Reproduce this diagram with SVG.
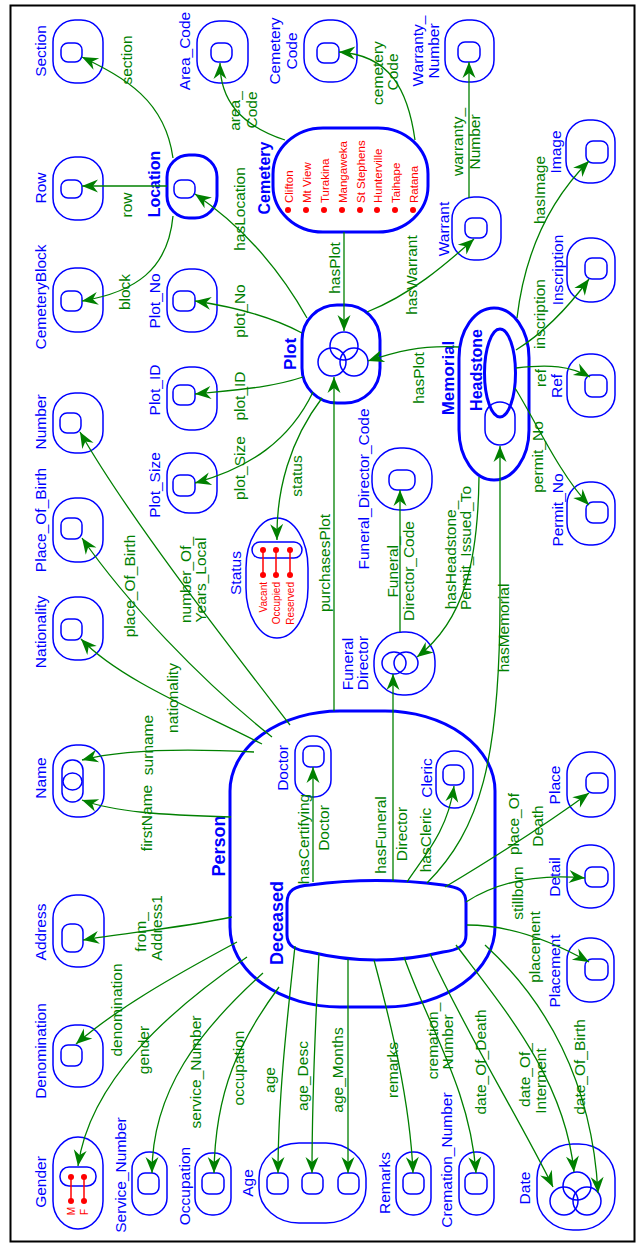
<svg xmlns="http://www.w3.org/2000/svg" width="637" height="1247" viewBox="0 0 637 1247">
<defs>
<style>
.o{fill:none;stroke:#0000ff;stroke-width:1.5}
.k{fill:none;stroke:#0000ff;stroke-width:3}
.e{fill:none;stroke:#008000;stroke-width:1.3;marker-end:url(#ah)}
text{font-family:"Liberation Sans",Arial,sans-serif;text-anchor:middle}
.b{fill:#0000ff;font-size:15.5px}
.bb{fill:#0000ff;font-size:16px;font-weight:bold}
.g{fill:#008000;font-size:15.5px}
.r{fill:#ff0000;font-size:11.5px;text-anchor:start}
.rs{fill:#ff0000;font-size:10px;text-anchor:end}
.dot{fill:#ff0000}
.rl{stroke:#ff0000;stroke-width:1.5}
</style>
<marker id="ah" markerUnits="userSpaceOnUse" viewBox="-17 -7 18 14" refX="0" refY="0" markerWidth="18" markerHeight="14" orient="auto"><path d="M0,0 L-16,-6.5 L-11,0 L-16,6.5 Z" fill="#008000"/></marker>
</defs>
<rect x="0" y="0" width="637" height="1247" fill="#ffffff"/>
<rect x="10.5" y="5.5" width="624" height="1236" fill="none" stroke="#000" stroke-width="2"/>

<g id="nodes">
<g id="section"><rect class="o" x="53" y="20" width="50" height="63" rx="22"/><rect class="o" x="61" y="43" width="21" height="19" rx="7"/><text class="b" transform="translate(46,51) rotate(-90)">Section</text></g>
<g id="row"><rect class="o" x="53" y="157" width="50" height="63" rx="22"/><rect class="o" x="61" y="180" width="21" height="18" rx="7"/><text class="b" transform="translate(46,188) rotate(-90)">Row</text></g>
<g id="cemeteryblock"><rect class="o" x="53" y="268" width="50" height="64" rx="22"/><rect class="o" x="61" y="291" width="21" height="20" rx="7"/><text class="b" transform="translate(46,297) rotate(-90)">CemeteryBlock</text></g>
<g id="number"><rect class="o" x="53" y="393" width="50" height="60" rx="22"/><rect class="o" x="60" y="413" width="21" height="20" rx="7"/><text class="b" transform="translate(46,422) rotate(-90)">Number</text></g>
<g id="placeofbirth"><rect class="o" x="53" y="498" width="50" height="64" rx="22"/><rect class="o" x="61" y="518" width="21" height="21" rx="7"/><text class="b" transform="translate(46,520) rotate(-90)">Place_Of_Birth</text></g>
<g id="nationality"><rect class="o" x="53" y="597" width="50" height="63" rx="22"/><rect class="o" x="61" y="619" width="21" height="21" rx="7"/><text class="b" transform="translate(46,632) rotate(-90)">Nationality</text></g>
<g id="name"><rect class="o" x="53" y="745" width="51" height="72" rx="23"/><rect class="o" x="62" y="760" width="21" height="42" rx="10"/><ellipse class="o" cx="72.5" cy="781.5" rx="9.5" ry="8.5"/><text class="b" transform="translate(46,778) rotate(-90)">Name</text></g>
<g id="address"><rect class="o" x="53" y="895" width="51" height="72" rx="23"/><rect class="o" x="62" y="924" width="21" height="28" rx="8"/><text class="b" transform="translate(46,932) rotate(-90)">Address</text></g>
<g id="denomination"><rect class="o" x="53" y="1025" width="50" height="62" rx="22"/><rect class="o" x="61" y="1045" width="21" height="21" rx="7"/><text class="b" transform="translate(46,1051) rotate(-90)">Denomination</text></g>
<g id="gender"><rect class="o" x="53" y="1137" width="50" height="92" rx="25" ry="28"/><rect class="o" x="60" y="1167" width="36" height="19" rx="9"/>
<line class="rl" x1="71" y1="1177" x2="71" y2="1201"/><line class="rl" x1="84" y1="1177" x2="84" y2="1201"/>
<circle class="dot" cx="71" cy="1177" r="3"/><circle class="dot" cx="84" cy="1177" r="3"/><circle class="dot" cx="71" cy="1201" r="3"/><circle class="dot" cx="84" cy="1201" r="3"/>
<text class="rs" transform="translate(75,1207) rotate(-90)">M</text><text class="rs" transform="translate(88,1209) rotate(-90)">F</text>
<text class="b" transform="translate(46,1182) rotate(-90)">Gender</text></g>
<g id="servicenumber"><rect class="o" x="132" y="1152" width="35" height="63" rx="17"/><rect class="o" x="138" y="1173" width="21" height="21" rx="7"/><text class="b" transform="translate(126,1175) rotate(-90)">Service_Number</text></g>
<g id="occupation"><rect class="o" x="195" y="1153" width="36" height="62" rx="17"/><rect class="o" x="202" y="1173" width="22" height="21" rx="7"/><text class="b" transform="translate(190,1186) rotate(-90)">Occupation</text></g>
<g id="age"><rect class="o" x="259" y="1143" width="107" height="80" rx="40" ry="35"/><rect class="o" x="267" y="1173" width="21" height="21" rx="7"/><rect class="o" x="302" y="1173" width="21" height="21" rx="7"/><rect class="o" x="338" y="1173" width="21" height="21" rx="7"/><text class="b" transform="translate(253,1183) rotate(-90)">Age</text></g>
<g id="remarks"><rect class="o" x="396" y="1152" width="35" height="63" rx="17"/><rect class="o" x="403" y="1173" width="21" height="21" rx="7"/><text class="b" transform="translate(390,1183) rotate(-90)">Remarks</text></g>
<g id="cremationnumber"><rect class="o" x="459" y="1152" width="35" height="63" rx="17"/><rect class="o" x="465" y="1173" width="22" height="21" rx="7"/><text class="b" transform="translate(452,1160) rotate(-90)">Cremation_Number</text></g>
<g id="date"><rect class="o" x="537" y="1144" width="78" height="86" rx="36" ry="34"/><circle class="o" cx="577" cy="1186" r="14"/><circle class="o" cx="564" cy="1201" r="14"/><circle class="o" cx="587" cy="1201" r="14"/><text class="b" transform="translate(530,1188) rotate(-90)">Date</text></g>
<g id="areacode"><rect class="o" x="197" y="21" width="51" height="62" rx="22"/><rect class="o" x="211" y="43" width="21" height="19" rx="7"/><text class="b" transform="translate(190,51) rotate(-90)">Area_Code</text></g>
<g id="cemeterycode"><rect class="o" x="304" y="20" width="53" height="62" rx="24"/><rect class="o" x="317" y="43" width="22" height="20" rx="7"/><text class="b" transform="translate(280,51) rotate(-90)">Cemetery</text><text class="b" transform="translate(297,51) rotate(-90)">Code</text></g>
<g id="warrantynumber"><rect class="o" x="445" y="20" width="49" height="62" rx="22"/><rect class="o" x="458" y="42" width="22" height="20" rx="7"/><text class="b" transform="translate(423,51) rotate(-90)">Warranty_</text><text class="b" transform="translate(439,51) rotate(-90)">Number</text></g>
<g id="location"><rect class="k" x="167" y="155" width="50" height="63" rx="22"/><rect class="o" x="174" y="180" width="21" height="18" rx="7"/><text class="bb" transform="translate(160,184) rotate(-90)">Location</text></g>
<g id="plotno"><rect class="o" x="167" y="269" width="50" height="63" rx="22"/><rect class="o" x="173" y="291" width="22" height="20" rx="7"/><text class="b" transform="translate(160,301) rotate(-90)">Plot_No</text></g>
<g id="plotid"><rect class="o" x="167" y="367" width="50" height="63" rx="22"/><rect class="o" x="173" y="385" width="22" height="20" rx="7"/><text class="b" transform="translate(160,390) rotate(-90)">Plot_ID</text></g>
<g id="plotsize"><rect class="o" x="167" y="453" width="50" height="60" rx="22"/><rect class="o" x="173" y="475" width="22" height="21" rx="7"/><text class="b" transform="translate(160,485) rotate(-90)">Plot_Size</text></g>
<g id="status"><rect class="o" x="246" y="518" width="62" height="120" rx="31" ry="50"/><rect class="o" x="252" y="542" width="50" height="16" rx="8"/>
<line class="rl" x1="263" y1="550" x2="263" y2="575"/><line class="rl" x1="276" y1="550" x2="276" y2="575"/><line class="rl" x1="290" y1="550" x2="290" y2="575"/>
<circle class="dot" cx="263" cy="550" r="3"/><circle class="dot" cx="276" cy="550" r="3"/><circle class="dot" cx="290" cy="550" r="3"/><circle class="dot" cx="263" cy="575" r="3"/><circle class="dot" cx="276" cy="575" r="3"/><circle class="dot" cx="290" cy="575" r="3"/>
<text class="rs" transform="translate(267,582) rotate(-90)">Vacant</text><text class="rs" transform="translate(280,582) rotate(-90)">Occupied</text><text class="rs" transform="translate(294,582) rotate(-90)">Reserved</text>
<text class="b" transform="translate(241,573) rotate(-90)">Status</text></g>
<g id="cemetery"><rect class="k" x="273" y="128" width="155" height="104" rx="50" ry="46"/>
<circle class="dot" cx="288" cy="210" r="3"/><circle class="dot" cx="306" cy="210" r="3"/><circle class="dot" cx="324" cy="210" r="3"/><circle class="dot" cx="342" cy="210" r="3"/><circle class="dot" cx="360" cy="210" r="3"/><circle class="dot" cx="377" cy="210" r="3"/><circle class="dot" cx="395" cy="210" r="3"/><circle class="dot" cx="413" cy="210" r="3"/>
<text class="r" transform="translate(293,203) rotate(-90)">Clifton</text><text class="r" transform="translate(311,203) rotate(-90)">Mt View</text><text class="r" transform="translate(329,203) rotate(-90)">Turakina</text><text class="r" transform="translate(347,203) rotate(-90)">Mangaweka</text><text class="r" transform="translate(365,203) rotate(-90)">St Stephens</text><text class="r" transform="translate(382,203) rotate(-90)">Hunterville</text><text class="r" transform="translate(400,203) rotate(-90)">Taihape</text><text class="r" transform="translate(418,203) rotate(-90)">Ratana</text>
<text class="bb" transform="translate(270,178) rotate(-90)">Cemetery</text></g>
<g id="plot"><rect class="k" x="302" y="305" width="78" height="98" rx="35"/><circle class="o" cx="344" cy="346" r="14"/><circle class="o" cx="332" cy="362" r="14"/><circle class="o" cx="354" cy="362" r="14"/><text class="bb" style="font-size:17px" transform="translate(296,354) rotate(-90)">Plot</text></g>
<g id="warrant"><rect class="o" x="452" y="197" width="49" height="63" rx="22"/><rect class="o" x="465" y="218" width="22" height="20" rx="7"/><text class="b" transform="translate(449,229) rotate(-90)">Warrant</text></g>
<g id="image"><rect class="o" x="566" y="120" width="49" height="63" rx="22"/><rect class="o" x="586" y="141" width="22" height="22" rx="7"/><text class="b" transform="translate(561,152) rotate(-90)">Image</text></g>
<g id="inscription"><rect class="o" x="567" y="238" width="48" height="64" rx="22"/><rect class="o" x="585" y="258" width="22" height="21" rx="7"/><text class="b" transform="translate(563,270) rotate(-90)">Inscription</text></g>
<g id="ref"><rect class="o" x="567" y="354" width="48" height="63" rx="22"/><rect class="o" x="585" y="375" width="22" height="22" rx="7"/><text class="b" transform="translate(562,386) rotate(-90)">Ref</text></g>
<g id="permitno"><rect class="o" x="567" y="482" width="48" height="63" rx="22"/><rect class="o" x="586" y="502" width="22" height="21" rx="7"/><text class="b" transform="translate(563,510) rotate(-90)">Permit_No</text></g>
<g id="memorial"><rect class="k" x="459" y="308" width="70" height="172" rx="35" ry="50"/><rect class="o" x="485" y="402" width="30" height="43" rx="15"/><ellipse class="k" cx="500" cy="373" rx="15.5" ry="44"/>
<text class="bb" style="font-size:17px" transform="translate(454,378) rotate(-90)">Memorial</text><text class="bb" transform="translate(482,370) rotate(-90)">Headstone</text></g>
<g id="funeraldirectorcode"><rect class="o" x="372" y="448" width="60" height="62" rx="28"/><rect class="o" x="389" y="470" width="26" height="20" rx="8"/><text class="b" transform="translate(369,489) rotate(-90)">Funeral_Director_Code</text></g>
<g id="funeraldirector"><rect class="o" x="374" y="632" width="61" height="63" rx="29"/><ellipse class="o" cx="394" cy="663" rx="12" ry="11"/><ellipse class="o" cx="406" cy="663" rx="12" ry="11"/><text class="b" transform="translate(353,664) rotate(-90)">Funeral</text><text class="b" transform="translate(368,663) rotate(-90)">Director</text></g>
<g id="person"><rect class="k" x="230" y="711" width="265" height="296" rx="110" ry="80"/><text class="bb" style="font-size:18px" transform="translate(225,846) rotate(-90)">Person</text></g>
<g id="doctor"><rect class="o" x="295" y="736" width="36" height="61" rx="17"/><rect class="o" x="303" y="746" width="21" height="21" rx="7"/><text class="b" transform="translate(288,768) rotate(-90)">Doctor</text></g>
<g id="cleric"><rect class="o" x="436" y="751" width="37" height="57" rx="18"/><rect class="o" x="443" y="765" width="21" height="20" rx="7"/><text class="b" transform="translate(432,778) rotate(-90)">Cleric</text></g>
<g id="deceased"><path class="k" d="M287,903 C287,890 295,886 310,885 Q376,876 443,885 C458,887 466,890 466,903 L466,935 C466,946 458,950 443,952 Q376,968 310,952 C295,950 287,946 287,935 Z"/><text class="bb" style="font-size:18px" transform="translate(283,923) rotate(-90)">Deceased</text></g>
<g id="place"><rect class="o" x="567" y="752" width="48" height="65" rx="22"/><rect class="o" x="586" y="773" width="22" height="20" rx="7"/><text class="b" transform="translate(560,785) rotate(-90)">Place</text></g>
<g id="detail"><rect class="o" x="567" y="845" width="47" height="63" rx="22"/><rect class="o" x="585" y="867" width="23" height="20" rx="7"/><text class="b" transform="translate(560,877) rotate(-90)">Detail</text></g>
<g id="placement"><rect class="o" x="567" y="938" width="47" height="64" rx="22"/><rect class="o" x="585" y="959" width="23" height="21" rx="7"/><text class="b" transform="translate(560,971) rotate(-90)">Placement</text></g>
</g>

<g id="connectors">
<path class="e" d="M173,158 C165,100 125,78 82,57"/>
<path class="e" d="M167,186 L82,186"/>
<path class="e" d="M173,216 C168,270 135,292 82,301"/>
<path class="e" d="M307,318 C280,270 245,228 195,194"/>
<path class="e" d="M302,333 C270,316 235,307 195,301"/>
<path class="e" d="M303,377 C270,388 235,390 195,394"/>
<path class="e" d="M313,392 C290,440 250,468 195,483"/>
<path class="e" d="M322,398 C290,440 276,490 277,540"/>
<path class="e" d="M344,232 L344,331"/>
<path class="e" d="M367,312 C410,295 445,265 474,239"/>
<path class="e" d="M459,347 C420,345 395,352 368,361"/>
<path class="e" d="M469,198 L469,62"/>
<path class="e" d="M415,140 C408,90 390,55 339,52"/>
<path class="e" d="M285,140 C240,125 220,100 220,63"/>
<path class="e" d="M517,318 C525,250 550,200 589,161"/>
<path class="e" d="M516,350 C545,332 570,305 589,279"/>
<path class="e" d="M516,368 C550,364 570,366 590,377"/>
<path class="e" d="M515,388 C535,420 560,475 589,505"/>
<path class="e" d="M479,477 C478,560 465,620 417,657"/>
<path class="e" d="M427,883 C480,830 500,760 500,600 L500,446"/>
<path class="e" d="M393,881 L393,674"/>
<path class="e" d="M400,632 L400,490"/>
<path class="e" d="M334,711 L334,377"/>
<path class="e" d="M254,752 C180,748 120,750 82,760"/>
<path class="e" d="M231,817 C160,815 115,812 82,800"/>
<path class="e" d="M262,744 C200,712 120,680 81,639"/>
<path class="e" d="M272,737 C200,680 125,600 82,538"/>
<path class="e" d="M290,725 C240,660 130,520 80,432"/>
<path class="e" d="M232,917 C180,928 125,933 83,940"/>
<path class="e" d="M237,942 C170,978 115,1010 76,1044"/>
<path class="e" d="M247,957 C170,1010 90,1080 78,1166"/>
<path class="e" d="M263,973 C200,1030 152,1090 152,1173"/>
<path class="e" d="M279,987 C240,1040 215,1090 214,1173"/>
<path class="e" d="M295,946 C287,1020 278,1100 278,1173"/>
<path class="e" d="M319,953 C315,1030 312,1100 312,1173"/>
<path class="e" d="M348,959 L348,1173"/>
<path class="e" d="M374,960 C390,1020 410,1100 413,1173"/>
<path class="e" d="M404,957 C430,1030 470,1090 476,1173"/>
<path class="e" d="M430,954 C470,1040 520,1120 553,1187"/>
<path class="e" d="M456,945 C505,1010 565,1080 574,1172"/>
<path class="e" d="M485,945 C545,1000 592,1080 598,1193"/>
<path class="e" d="M313,882 L313,767"/>
<path class="e" d="M407,882 C425,855 448,830 454,786"/>
<path class="e" d="M445,887 C490,860 545,825 589,793"/>
<path class="e" d="M466,902 C500,880 540,874 585,878"/>
<path class="e" d="M467,925 C510,925 550,940 589,962"/>

<text class="g" transform="translate(132,60) rotate(-90)">section</text>
<text class="g" transform="translate(132,205) rotate(-90)">row</text>
<text class="g" transform="translate(130,292) rotate(-90)">block</text>
<text class="g" transform="translate(245,209) rotate(-90)">hasLocation</text>
<text class="g" transform="translate(245,311) rotate(-90)">plot_No</text>
<text class="g" transform="translate(245,396) rotate(-90)">plot_ID</text>
<text class="g" transform="translate(245,468) rotate(-90)">plot_Size</text>
<text class="g" transform="translate(302,476) rotate(-90)">status</text>
<text class="g" transform="translate(340,268) rotate(-90)">hasPlot</text>
<text class="g" transform="translate(417,275) rotate(-90)">hasWarrant</text>
<text class="g" transform="translate(424,378) rotate(-90)">hasPlot</text>
<text class="g" transform="translate(240,111) rotate(-90)">area_</text>
<text class="g" transform="translate(257,110) rotate(-90)">Code</text>
<text class="g" transform="translate(383,73) rotate(-90)">cemetery</text>
<text class="g" transform="translate(398,72) rotate(-90)">Code</text>
<text class="g" transform="translate(463,142) rotate(-90)">warranty_</text>
<text class="g" transform="translate(480,142) rotate(-90)">Number</text>
<text class="g" transform="translate(545,190) rotate(-90)">hasImage</text>
<text class="g" transform="translate(545,314) rotate(-90)">inscription</text>
<text class="g" transform="translate(546,378) rotate(-90)">ref</text>
<text class="g" transform="translate(543,457) rotate(-90)">permit_No</text>
<text class="g" transform="translate(456,555) rotate(-90)">hasHeadstone_</text>
<text class="g" transform="translate(471,548) rotate(-90)">Permit_Issued_To</text>
<text class="g" transform="translate(509,628) rotate(-90)">hasMemorial</text>
<text class="g" transform="translate(398,567) rotate(-90)">Funeral_</text>
<text class="g" transform="translate(414,571) rotate(-90)">Director_Code</text>
<text class="g" transform="translate(330,563) rotate(-90)">purchasesPlot</text>
<text class="g" transform="translate(153,745) rotate(-90)">surname</text>
<text class="g" transform="translate(152,818) rotate(-90)">firstName</text>
<text class="g" transform="translate(178,698) rotate(-90)">nationality</text>
<text class="g" transform="translate(135,586) rotate(-90)">place_Of_Birth</text>
<text class="g" transform="translate(191,580) rotate(-90)">number_Of_</text>
<text class="g" transform="translate(206,580) rotate(-90)">Years_Local</text>
<text class="g" transform="translate(146,932) rotate(-90)">from_</text>
<text class="g" transform="translate(162,928) rotate(-90)">Address1</text>
<text class="g" transform="translate(122,1010) rotate(-90)">denomination</text>
<text class="g" transform="translate(149,1050) rotate(-90)">gender</text>
<text class="g" transform="translate(201,1072) rotate(-90)">service_Number</text>
<text class="g" transform="translate(244,1068) rotate(-90)">occupation</text>
<text class="g" transform="translate(275,1080) rotate(-90)">age</text>
<text class="g" transform="translate(308,1076) rotate(-90)">age_Desc</text>
<text class="g" transform="translate(343,1070) rotate(-90)">age_Months</text>
<text class="g" transform="translate(398,1070) rotate(-90)">remarks</text>
<text class="g" transform="translate(438,1041) rotate(-90)">cremation_</text>
<text class="g" transform="translate(453,1042) rotate(-90)">Number</text>
<text class="g" transform="translate(486,1062) rotate(-90)">date_Of_Death</text>
<text class="g" transform="translate(530,1075) rotate(-90)">date_Of_</text>
<text class="g" transform="translate(546,1081) rotate(-90)">Interment</text>
<text class="g" transform="translate(585,1067) rotate(-90)">date_Of_Birth</text>
<text class="g" transform="translate(309,839) rotate(-90)">hasCertifying</text>
<text class="g" transform="translate(329,828) rotate(-90)">Doctor</text>
<text class="g" transform="translate(386,835) rotate(-90)">hasFuneral</text>
<text class="g" transform="translate(407,834) rotate(-90)">Director</text>
<text class="g" transform="translate(431,840) rotate(-90)">hasCleric</text>
<text class="g" transform="translate(519,824) rotate(-90)">place_Of</text>
<text class="g" transform="translate(543,826) rotate(-90)">Death</text>
<text class="g" transform="translate(523,893) rotate(-90)">stillborn</text>
<text class="g" transform="translate(540,947) rotate(-90)">placement</text>
</g>
</svg>
